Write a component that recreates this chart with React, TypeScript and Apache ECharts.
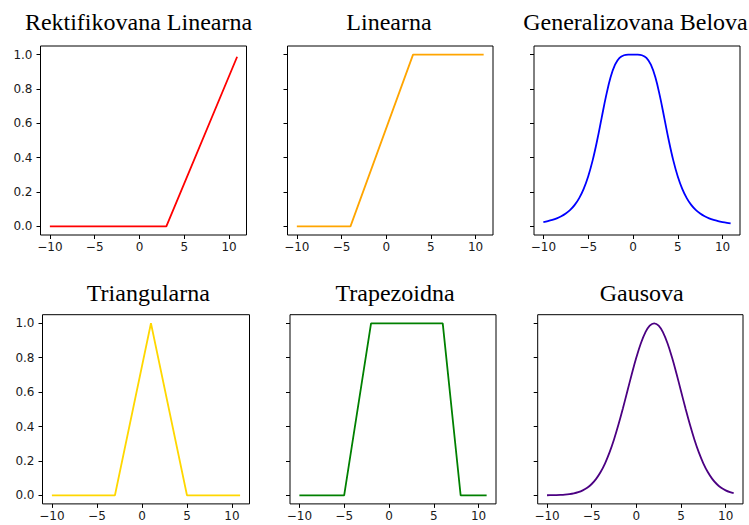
import React, { useEffect, useRef } from "react";
import * as echarts from "echarts";

const titles = [
  "Rektifikovana Linearna",
  "Linearna",
  "Generalizovana Belova",
  "Triangularna",
  "Trapezoidna",
  "Gausova",
];

const xTicks = [-10, -5, 0, 5, 10];
const yTicks = [0, 0.2, 0.4, 0.6, 0.8, 1.0];

const xRelu = [-10, 3, 10.9];
const yRelu = [0, 0, 0.9875];

const xLin = [-10, -4, 3, 10.9];
const yLin = [0, 0, 1, 1];

const xSmooth = [
  -10, -9.5, -9, -8.5, -8, -7.5, -7, -6.5, -6, -5.5, -5, -4.5, -4, -3.5, -3, -2.5, -2, -1.5, -1, -0.5,
  0, 0.5, 1, 1.5, 2, 2.5, 3, 3.5, 4, 4.5, 5, 5.5, 6, 6.5, 7, 7.5, 8, 8.5, 9, 9.5, 10, 10.5, 10.9,
];
const yBell = [
  0.025, 0.0305, 0.0376, 0.0468, 0.0588, 0.0749, 0.0963, 0.1254, 0.1649, 0.2186, 0.2906, 0.3843, 0.5,
  0.6305, 0.7596, 0.8676, 0.9412, 0.9806, 0.9961, 0.9998, 1, 0.9998, 0.9961, 0.9806, 0.9412, 0.8676,
  0.7596, 0.6305, 0.5, 0.3843, 0.2906, 0.2186, 0.1649, 0.1254, 0.0963, 0.0749, 0.0588, 0.0468, 0.0376,
  0.0305, 0.025, 0.0206, 0.0178,
];

const xTri = [-10, -3, 1, 5, 10.9];
const yTri = [0, 0, 1, 0, 0];

const xTrap = [-10, -5, -2, 6, 8, 10.9];
const yTrap = [0, 0, 1, 1, 0, 0];

const yGauss = [
  0.0003, 0.0006, 0.0012, 0.0022, 0.0039, 0.0067, 0.0111, 0.0181, 0.0286, 0.0439, 0.0657, 0.0956,
  0.1353, 0.1863, 0.2494, 0.3247, 0.4111, 0.5063, 0.6065, 0.7066, 0.8007, 0.8825, 0.946, 0.9862, 1,
  0.9862, 0.946, 0.8825, 0.8007, 0.7066, 0.6065, 0.5063, 0.4111, 0.3247, 0.2494, 0.1863, 0.1353,
  0.0956, 0.0657, 0.0439, 0.0286, 0.0181, 0.0123,
];

const colors = ["#ff0000", "#ffa500", "#0000ff", "#ffd700", "#008000", "#4b0082"];

const seriesX = [xRelu, xLin, xSmooth, xTri, xTrap, xSmooth];
const seriesY = [yRelu, yLin, yBell, yTri, yTrap, yGauss];
const smoothFlags = [false, false, true, false, false, true];

// layout
const grids = [
  { left: 40.5, top: 46, width: 206, height: 189 },
  { left: 287.5, top: 46, width: 205.5, height: 189 },
  { left: 534, top: 46, width: 206, height: 189 },
  { left: 42.5, top: 314.7, width: 207, height: 189.2 },
  { left: 290, top: 314.7, width: 206, height: 189.2 },
  { left: 537.7, top: 314.7, width: 205.3, height: 189.2 },
];
const titlePos = [
  { x: 138.5, y: 21.8 },
  { x: 389, y: 21.8 },
  { x: 635.5, y: 21.8 },
  { x: 148.3, y: 292.5 },
  { x: 395, y: 292.5 },
  { x: 641.7, y: 292.5 },
];

const fmtX = (v: number) => (v < 0 ? "\u2212" + Math.abs(v) : String(v));

export default function App() {
  const ref = useRef<HTMLDivElement>(null);
  useEffect(() => {
    if (!ref.current) return;
    const chart = echarts.init(ref.current, undefined, { renderer: "svg" });
    const labelStyle = {
      color: "#1a1a1a",
      fontFamily: "DejaVu Sans",
      fontSize: 12,
    };
    const option: any = {
      animation: false,
      backgroundColor: "#ffffff",
      grid: grids.map((g) => ({
        ...g,
        show: true,
        borderColor: "#000",
        borderWidth: 1,
        backgroundColor: "transparent",
        containLabel: false,
      })),
      xAxis: grids.map((_, i) => ({
        type: "value",
        gridIndex: i,
        position: "bottom",
        min: -11.045,
        max: 11.945,
        axisLine: { show: false, onZero: false },
        splitLine: { show: false },
        axisTick: {
          show: true,
          customValues: xTicks,
          length: 4,
          lineStyle: { color: "#000", width: 1 },
        },
        axisLabel: {
          ...labelStyle,
          customValues: xTicks,
          margin: 6,
          formatter: fmtX,
        },
      })),
      yAxis: grids.map((_, i) => ({
        type: "value",
        gridIndex: i,
        position: "left",
        min: -0.05,
        max: 1.05,
        axisLine: { show: false, onZero: false },
        splitLine: { show: false },
        axisTick: {
          show: true,
          customValues: yTicks,
          length: 4,
          lineStyle: { color: "#000", width: 1 },
        },
        axisLabel: {
          ...labelStyle,
          show: i % 3 === 0,
          customValues: yTicks,
          margin: 8,
          formatter: (v: number) => v.toFixed(1),
        },
      })),
      series: seriesX.map((xs, i) => ({
        type: "line",
        xAxisIndex: i,
        yAxisIndex: i,
        showSymbol: false,
        symbol: "none",
        smooth: smoothFlags[i] ? 0.4 : false,
        lineStyle: { color: colors[i], width: 1.8 },
        itemStyle: { color: colors[i] },
        data: xs.map((x, k) => [x, seriesY[i][k]]),
      })),
      graphic: titles.map((t, i) => ({
        type: "text",
        x: titlePos[i].x,
        y: titlePos[i].y,
        style: {
          text: t,
          fill: "#000",
          font: '24px "Liberation Serif"',
          textAlign: "center",
          textVerticalAlign: "middle",
        },
      })),
    };
    chart.setOption(option);
    return () => chart.dispose();
  }, []);
  return (
    <div
      ref={ref}
      style={{ position: "fixed", left: 0, top: 0, width: 749, height: 525, background: "#fff" }}
    />
  );
}
